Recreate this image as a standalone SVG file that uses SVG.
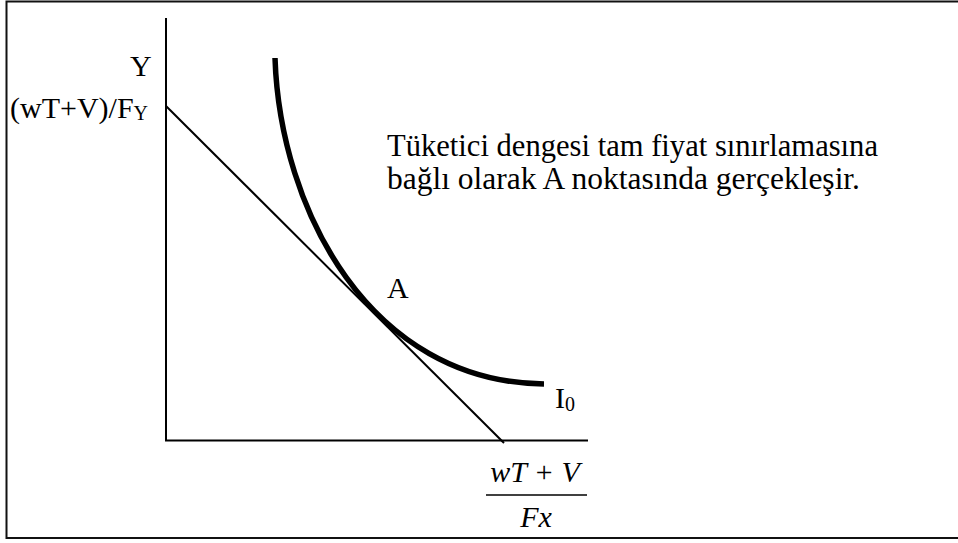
<svg xmlns="http://www.w3.org/2000/svg" width="958" height="543" viewBox="0 0 958 543">
<style>
text{font-family:"Liberation Serif","Times New Roman",serif;font-size:30px;fill:#000}
.ax{stroke:#000;stroke-width:2;fill:none}
.it{font-style:italic}
.note{font-size:31px}
</style>
<rect x="0" y="0" width="958" height="543" fill="#fff"/>
<rect x="6.5" y="1.5" width="960" height="536.5" fill="none" stroke="#111" stroke-width="2"/>
<g id="connectors">
<line class="ax" x1="166" y1="18" x2="166" y2="441"/>
<line class="ax" x1="165" y1="440.5" x2="588" y2="440.5"/>
<line class="ax" x1="166" y1="106" x2="504" y2="443"/>
<path d="M275,58 C280,210 370,382 544,384" fill="none" stroke="#000" stroke-width="5.5"/>
<line x1="486" y1="495" x2="587" y2="495" stroke="#000" stroke-width="1.5"/>
</g>
<g id="yLabel"><text x="130" y="76">Y</text></g>
<g id="yIntercept"><text x="10" y="118">(wT+V)/F<tspan font-size="20" dy="2">Y</tspan></text></g>
<g id="note"><text class="note" x="387" y="156" textLength="491" lengthAdjust="spacingAndGlyphs">Tüketici dengesi tam fiyat sınırlamasına</text><text class="note" x="387" y="189" textLength="473" lengthAdjust="spacingAndGlyphs">bağlı olarak A noktasında gerçekleşir.</text></g>
<g id="pointA"><text x="387" y="298">A</text></g>
<g id="curveI0"><text x="555" y="408">I<tspan font-size="20" dy="3">0</tspan></text></g>
<g id="xIntercept"><text class="it" x="535" y="482" text-anchor="middle">wT + V</text><text class="it" x="536" y="527" text-anchor="middle">Fx</text></g>
</svg>
